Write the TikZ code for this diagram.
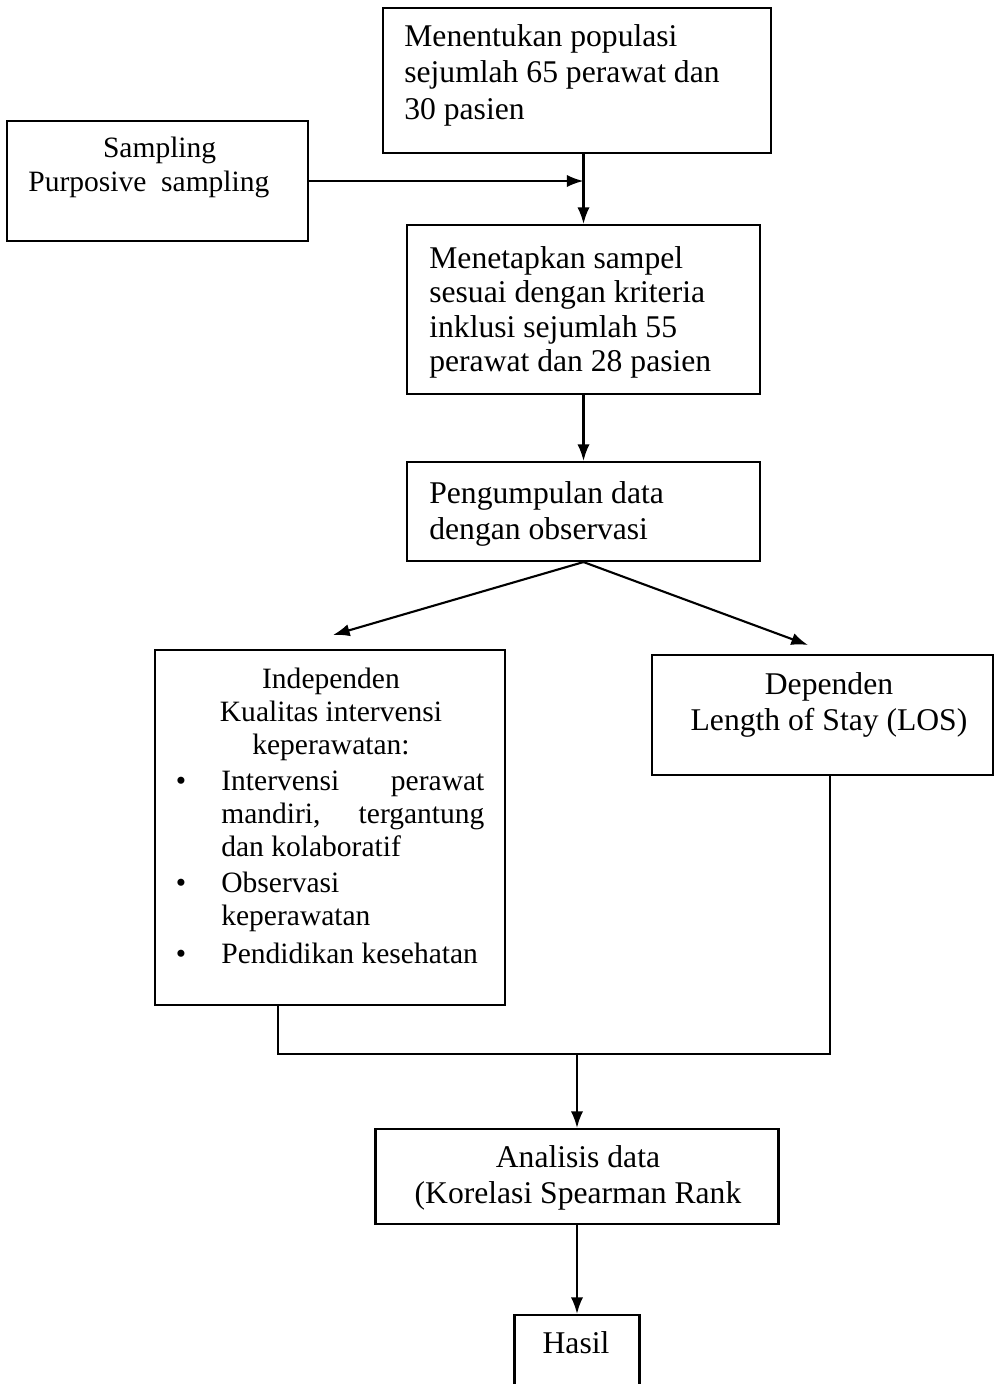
\documentclass[tikz,border=0pt]{standalone}
\usepackage{fontspec}
\setmainfont{Liberation Serif}
\usetikzlibrary{arrows.meta,calc}
\newcommand\Lft[2]{\vtop{\baselineskip=#1\lineskiplimit=-20pt\lineskip=0pt\halign{##\hfil\cr #2\crcr}}}
\newcommand\Ctr[2]{\vtop{\baselineskip=#1\lineskiplimit=-20pt\lineskip=0pt\halign{\hfil##\hfil\cr #2\crcr}}}
\tikzset{
  boxs/.style={draw=black, line width=1.2pt, inner sep=0pt, rectangle},
  txt/.style={inner sep=0pt, font=\fontsize{18pt}{21pt}\selectfont},
  txts/.style={inner sep=0pt, font=\fontsize{16.8pt}{20pt}\selectfont},
  arr/.style={line width=1.2pt, -{Latex[length=9.5pt,width=7pt]}},
  ln/.style={line width=1.2pt}
}
\begin{document}
\begin{tikzpicture}[x=0.02cm,y=-0.02cm]
\useasboundingbox[fill=white] (0,0) rectangle (995,1384);
% boxes
\node[boxs, minimum width=7.76cm, minimum height=2.9cm] (pop) at (577,80.5) {};
\node[boxs, minimum width=6.02cm, minimum height=2.4cm] (samp) at (157.5,181) {};
\node[boxs, minimum width=7.06cm, minimum height=3.38cm] (sel) at (583.5,309.5) {};
\node[boxs, minimum width=7.06cm, minimum height=1.98cm] (col) at (583.5,511.5) {};
\node[boxs, minimum width=7.0cm, minimum height=7.1cm] (ind) at (330,827.5) {};
\node[boxs, minimum width=6.82cm, minimum height=2.4cm] (dep) at (822.5,715) {};
\node[boxs, minimum width=8.06cm, minimum height=1.9cm] (ana) at (577,1176.5) {};
\node[boxs, minimum width=2.5cm, minimum height=1.8cm] (res) at (577,1360) {};
% texts
\node[txt, anchor=base west] (tpop) at (404,46) {\Lft{21pt}{Menentukan populasi\cr sejumlah 65 perawat dan\cr 30 pasien}};
\node[txts, anchor=base west] (tsamp) at (28,157) {\Lft{19.8pt}{\hskip 42.5pt Sampling\cr Purposive\hskip 0.5em sampling}};
\node[txt, anchor=base west] (tsel) at (429,268) {\Lft{19.7pt}{Menetapkan sampel\cr sesuai dengan kriteria\cr inklusi sejumlah 55\cr perawat dan 28 pasien}};
\node[txt, anchor=base west] (tcol) at (429,503) {\Lft{21pt}{Pengumpulan data\cr dengan observasi}};
\node[txts, anchor=base] (tind) at (331,688) {\Ctr{19pt}{Independen\cr Kualitas intervensi\cr keperawatan:}};
\node[txts, anchor=base] (bu1) at (181,790) {•};
\node[txts, anchor=base] (bu2) at (181,892) {•};
\node[txts, anchor=base] (bu3) at (181,963) {•};
\node[txts, anchor=base west] (it1) at (221,790) {\Lft{19pt}{\hbox to 149.7pt{Intervensi\hfill perawat}\cr \hbox to 149.7pt{mandiri,\hfill tergantung}\cr dan kolaboratif}};
\node[txts, anchor=base west] (it2) at (221,892) {\Lft{19pt}{Observasi\cr keperawatan}};
\node[txts, anchor=base west] (it3) at (221,963) {Pendidikan kesehatan};
\node[txt, anchor=base] (tdep) at (829,694) {\Ctr{21pt}{Dependen\cr Length of Stay (LOS)}};
\node[txt, anchor=base] (tana) at (578,1167) {\Ctr{21pt}{Analisis data\cr (Korelasi Spearman Rank}};
\node[txt, anchor=base] (tres) at (576,1353) {Hasil};
% connectors
\draw[arr] (samp.east) -- (samp.east -| sel.north);
\draw[arr] (pop.south -| sel.north) -- (sel.north);
\draw[arr] (sel.south) -- (col.north);
\coordinate (tipL) at (333,635);
\coordinate (tipR) at (808,645);
\draw[arr] (col.south) -- (tipL);
\draw[arr] (col.south) -- (tipR);
\coordinate (jl) at (278,1054);
\coordinate (jr) at (830,1054);
\draw[ln] (ind.south -| jl) -- (jl) -- (jr) -- (dep.south -| jr);
\draw[arr] (jl -| ana.north) -- (ana.north);
\draw[arr] (ana.south) -- (res.north);
\end{tikzpicture}
\end{document}
